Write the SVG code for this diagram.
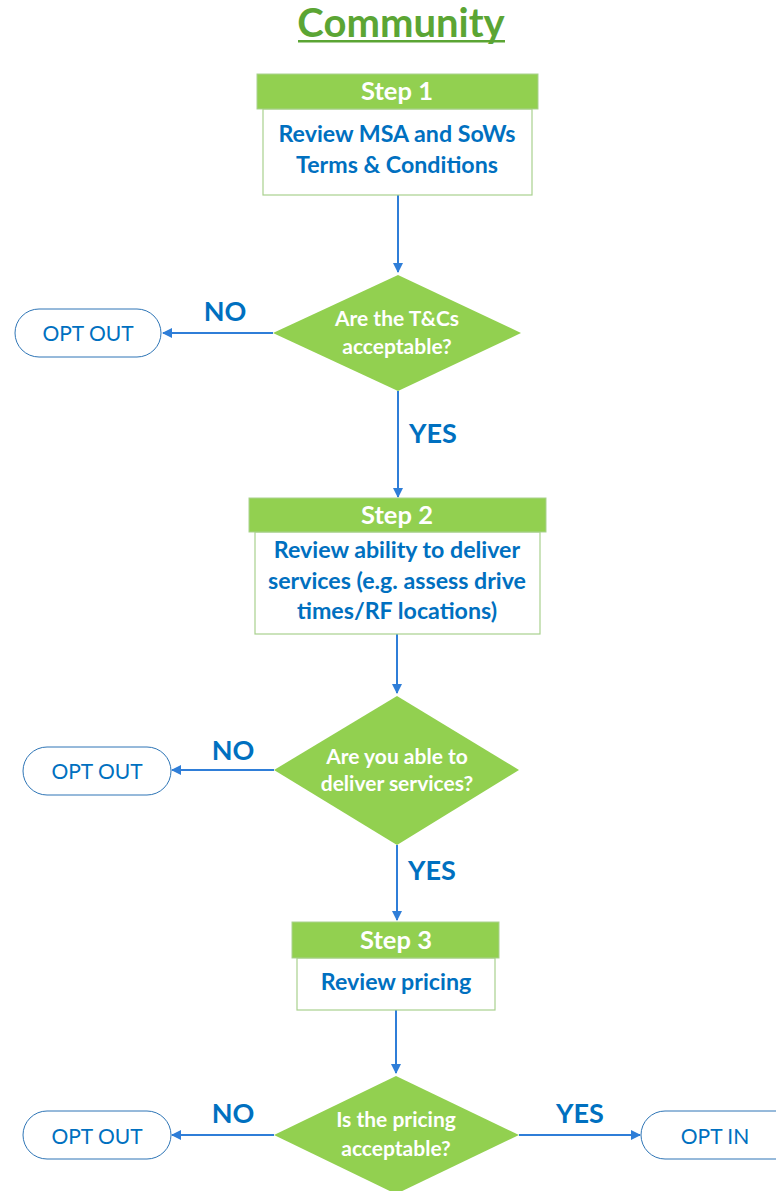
<svg xmlns="http://www.w3.org/2000/svg" width="776" height="1191" viewBox="0 0 776 1191">
<defs>
<marker id="arr" viewBox="0 0 10 10" refX="9" refY="5" markerWidth="10" markerHeight="10" markerUnits="userSpaceOnUse" orient="auto">
<path d="M0,0 L10,5 L0,10 z" fill="#2F7ED8"/>
</marker>
<style>
.hdr{fill:#92D050;stroke:#A9D18E;stroke-width:1}
.box{fill:#fff;stroke:#A9D18E;stroke-width:1.2}
.dia{fill:#92D050}
.term{fill:#fff;stroke:#2E75B6;stroke-width:1}
.conn{stroke:#2F7ED8;stroke-width:2;fill:none;marker-end:url(#arr)}
.ht{font-family:Lato,"Open Sans",sans-serif;font-weight:bold;font-size:25.5px;fill:#fff;text-anchor:middle}
.bt{font-family:Lato,"Open Sans",sans-serif;font-weight:bold;font-size:23.2px;fill:#0070C0;text-anchor:middle}
.dt{font-family:Lato,"Open Sans",sans-serif;font-weight:bold;font-size:21px;fill:#fff;text-anchor:middle}
.tt{font-family:Lato,"Open Sans",sans-serif;font-size:21px;fill:#0070C0;text-anchor:middle}
.lbl{font-family:Lato,"Open Sans",sans-serif;font-weight:bold;font-size:27px;fill:#0070C0;text-anchor:middle}
</style>
</defs>
<rect width="776" height="1191" fill="#fff"/>
<g id="title">
<text x="401" y="37" font-family="Lato,'Open Sans',sans-serif" font-weight="bold" font-size="40" fill="#5BA534" text-anchor="middle">Community</text>
<rect x="298" y="40" width="207" height="2.5" fill="#5BA534"/>
</g>
<g id="connectors">
<line class="conn" x1="398" y1="195" x2="398" y2="272"/>
<line class="conn" x1="273" y1="333" x2="163" y2="333"/>
<line class="conn" x1="398" y1="391" x2="398" y2="497"/>
<line class="conn" x1="397" y1="634" x2="397" y2="693"/>
<line class="conn" x1="274" y1="770" x2="172" y2="770"/>
<line class="conn" x1="397" y1="845" x2="397" y2="920"/>
<line class="conn" x1="396" y1="1010" x2="396" y2="1073"/>
<line class="conn" x1="274" y1="1135" x2="172" y2="1135"/>
<line class="conn" x1="519" y1="1135" x2="640" y2="1135"/>
<text class="lbl" x="225" y="321">NO</text>
<text class="lbl" x="433" y="443">YES</text>
<text class="lbl" x="233" y="760">NO</text>
<text class="lbl" x="432" y="880">YES</text>
<text class="lbl" x="233" y="1123">NO</text>
<text class="lbl" x="580" y="1123">YES</text>
</g>
<g id="step1">
<rect class="box" x="263" y="109" width="269" height="86"/>
<rect class="hdr" x="257" y="74" width="281" height="35"/>
<text class="ht" x="397" y="100">Step 1</text>
<text class="bt" x="397" y="142">Review MSA and SoWs</text>
<text class="bt" x="397" y="173">Terms &amp; Conditions</text>
</g>
<g id="decision1">
<polygon class="dia" points="398,275 521,333 398,391 273,333"/>
<text class="dt" x="397" y="326">Are the T&amp;Cs</text>
<text class="dt" x="397" y="354">acceptable?</text>
</g>
<g id="optout1">
<rect class="term" x="15" y="309" width="146" height="48" rx="24"/>
<text class="tt" x="88" y="341">OPT OUT</text>
</g>
<g id="step2">
<rect class="box" x="255" y="532" width="285" height="102"/>
<rect class="hdr" x="249" y="498" width="297" height="34"/>
<text class="ht" x="397" y="524">Step 2</text>
<text class="bt" x="397" y="558">Review ability to deliver</text>
<text class="bt" x="397" y="589">services (e.g. assess drive</text>
<text class="bt" x="397" y="619">times/RF locations)</text>
</g>
<g id="decision2">
<polygon class="dia" points="397,696 519,770 397,845 274,770"/>
<text class="dt" x="397" y="764">Are you able to</text>
<text class="dt" x="397" y="791">deliver services?</text>
</g>
<g id="optout2">
<rect class="term" x="23" y="747" width="148" height="48" rx="24"/>
<text class="tt" x="97" y="779">OPT OUT</text>
</g>
<g id="step3">
<rect class="box" x="297" y="958" width="198" height="52"/>
<rect class="hdr" x="292" y="922" width="207" height="36"/>
<text class="ht" x="396" y="949">Step 3</text>
<text class="bt" x="396" y="990">Review pricing</text>
</g>
<g id="decision3">
<polygon class="dia" points="396,1076 519,1135 396,1194 274,1135"/>
<text class="dt" x="396" y="1127">Is the pricing</text>
<text class="dt" x="396" y="1156">acceptable?</text>
</g>
<g id="optout3">
<rect class="term" x="23" y="1111" width="148" height="48" rx="24"/>
<text class="tt" x="97" y="1144">OPT OUT</text>
</g>
<g id="optin">
<rect class="term" x="641" y="1111" width="160" height="48" rx="24"/>
<text class="tt" x="715" y="1144">OPT IN</text>
</g>
</svg>
